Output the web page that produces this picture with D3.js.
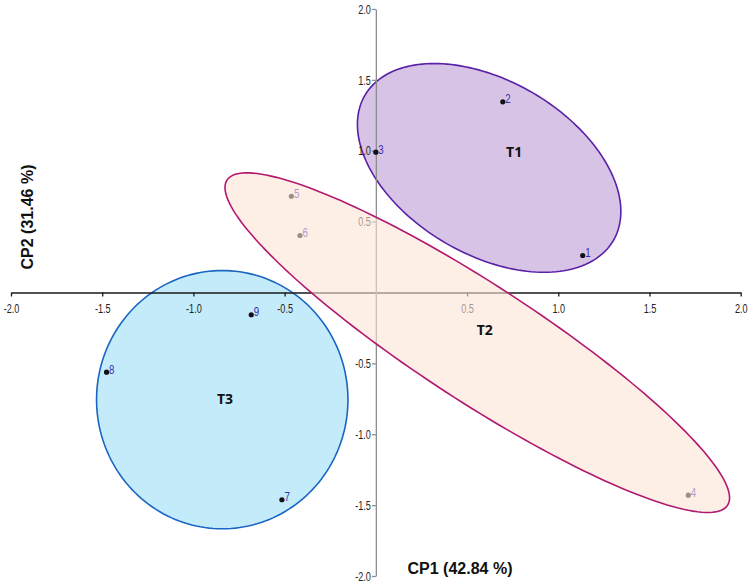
<!DOCTYPE html>
<html>
<head>
<meta charset="utf-8">
<script src="https://cdn.jsdelivr.net/npm/d3@7.9.0/dist/d3.min.js"></script>
<style>
  body { margin: 0; background: #fff; }
  svg { display: block; }
  .tick text { font-family: "Liberation Sans Narrow", "Arial Narrow", "Liberation Sans", sans-serif; font-size: 13px; fill: #222; }
  .ptlabel { font-family: "Liberation Sans Narrow", "Arial Narrow", "Liberation Sans", sans-serif; font-size: 13.5px; fill: #3a2db3; }
  .grp { font-family: "Noto Sans", "Open Sans", sans-serif; font-weight: bold; font-size: 14px; fill: #111; }
  .title { font-family: "Liberation Sans", Arial, sans-serif; font-weight: bold; font-size: 16px; fill: #111; }
</style>
</head>
<body>
<svg id="chart" width="752" height="586"></svg>
<script>
// observations (scores on CP1 / CP2)
const pointIds = ["1", "2", "3", "4", "5", "6", "7", "8", "9"];
const cp1 = [1.134, 0.696, 0.0, 1.713, -0.463, -0.416, -0.515, -1.476, -0.683];
const cp2 = [0.261, 1.345, 0.99, -1.43, 0.679, 0.402, -1.462, -0.562, -0.157];

// group ellipses: centre and two conjugate semi-axes, in data units
const groups = ["T1", "T2", "T3"];
const groupCenter = [[0.621, 0.879], [0.556, -0.354], [-0.842, -0.756]];
const groupAxisU = [[0.681, -0.512], [1.372, -1.147], [0.689, 0]];
const groupAxisV = [[-0.240, -0.529], [-0.174, -0.346], [0, 0.911]];
const groupLabelPos = [[0.758, 0.997], [0.597, -0.259], [-0.827, -0.748]];
const groupFill = ["#d6c3e6", "#fbe3d6", "#c4ebfa"];
const groupStroke = ["#5a21a6", "#b3186f", "#1a66c2"];

const tickVals = [-2, -1.5, -1, -0.5, 0.5, 1, 1.5, 2];

const svg = d3.select("#chart");
const x = d3.scaleLinear().domain([-2, 2]).range([11, 740.7]);
const y = d3.scaleLinear().domain([-2, 2]).range([576, 9]);

const line = d3.line().x(d => x(d[0])).y(d => y(d[1])).curve(d3.curveLinearClosed);

function ellipsePts(i) {
    const c = groupCenter[i], u = groupAxisU[i], v = groupAxisV[i];
    return d3.range(0, 360, 2).map(deg => {
        const t = deg * Math.PI / 180;
        return [c[0] + u[0] * Math.cos(t) + v[0] * Math.sin(t),
                c[1] + u[1] * Math.cos(t) + v[1] * Math.sin(t)];
    });
}

// squeeze text to look like a narrow face
function narrow(sel, k) {
    sel.each(function () {
        const w = this.getComputedTextLength();
        d3.select(this).attr("textLength", w * k).attr("lengthAdjust", "spacingAndGlyphs");
    });
}

// T1 and T3 sit under the axes
[0, 2].forEach(i => {
    svg.append("path")
        .attr("d", line(ellipsePts(i)))
        .attr("fill", groupFill[i])
        .attr("stroke", groupStroke[i])
        .attr("stroke-width", 1.6);
});

// axes crossing at the origin
const xAxis = svg.append("g")
    .attr("transform", `translate(0,${y(0)})`)
    .call(d3.axisBottom(x).tickValues(tickVals).tickFormat(d3.format(".1f"))
        .tickSize(4).tickSizeOuter(0).tickPadding(7));
xAxis.selectAll("path, line").attr("stroke", "#1a1a1a").attr("stroke-width", 1.3);

const yAxis = svg.append("g")
    .attr("transform", `translate(${x(0)},0)`)
    .call(d3.axisLeft(y).tickValues(tickVals).tickFormat(d3.format(".1f"))
        .tickSize(4).tickSizeOuter(0).tickPadding(1));
yAxis.selectAll("path, line").attr("stroke", "#8c8c8c").attr("stroke-width", 1.3);
svg.selectAll(".tick text").text(function () { return this.textContent.replace("−", "-"); });
narrow(svg.selectAll(".tick text"), 0.7);

// points and their numbers
const pts = pointIds.map((id, i) => ({ id, x: cp1[i], y: cp2[i] }));
svg.selectAll("circle.pt")
    .data(pts)
    .join("circle")
    .attr("class", "pt")
    .attr("cx", d => x(d.x))
    .attr("cy", d => y(d.y))
    .attr("r", 2.6)
    .attr("fill", "#111");
svg.selectAll("text.ptlabel")
    .data(pts)
    .join("text")
    .attr("class", "ptlabel")
    .attr("x", d => x(d.x) + 2.5)
    .attr("y", d => y(d.y) + 1.5)
    .text(d => d.id)
    .call(narrow, 0.72);

// T2 is translucent over the axes and points
svg.append("path")
    .attr("d", line(ellipsePts(1)))
    .attr("fill", groupFill[1])
    .attr("fill-opacity", 0.6)
    .attr("stroke", groupStroke[1])
    .attr("stroke-width", 1.6);

svg.selectAll("text.grp")
    .data(groups)
    .join("text")
    .attr("class", "grp")
    .attr("x", (d, i) => x(groupLabelPos[i][0]))
    .attr("y", (d, i) => y(groupLabelPos[i][1]))
    .attr("text-anchor", "middle")
    .attr("dominant-baseline", "central")
    .text(d => d);

// axis titles
svg.append("text")
    .attr("class", "title")
    .attr("x", 460)
    .attr("y", 574)
    .attr("text-anchor", "middle")
    .text("CP1 (42.84 %)");
svg.append("text")
    .attr("class", "title")
    .attr("transform", "translate(33,217) rotate(-90)")
    .attr("text-anchor", "middle")
    .text("CP2 (31.46 %)");
</script>
</body>
</html>
